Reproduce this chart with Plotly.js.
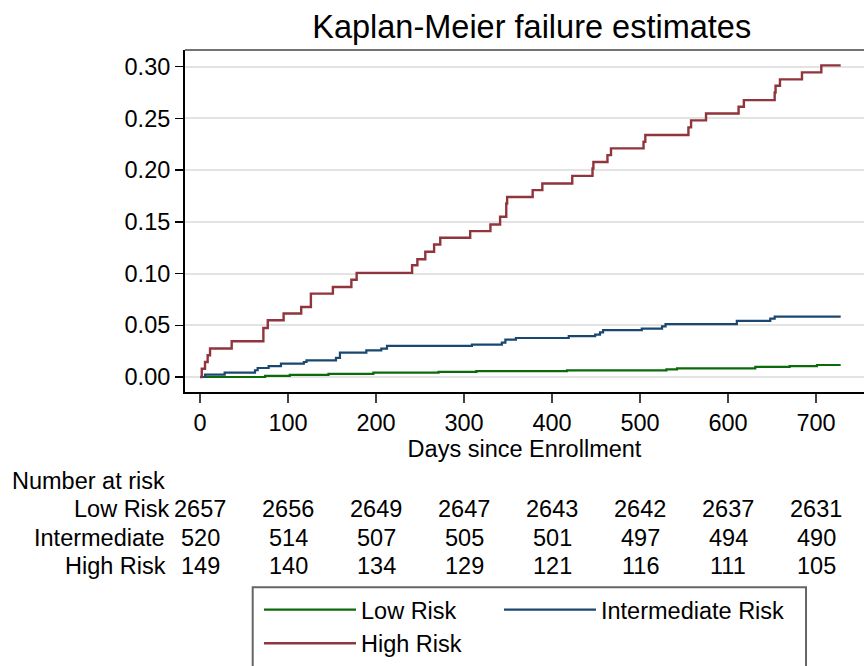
<!DOCTYPE html>
<html>
<head>
<meta charset="utf-8">
<script src="https://cdn.plot.ly/plotly-3.0.1.min.js"></script>
<style>html,body{margin:0;padding:0;background:#fff;}#chart{width:864px;height:666px;}</style>
</head>
<body>
<div id="chart"></div>
<script>
// Kaplan-Meier failure estimates (step points: day, cumulative failure)
const lowDays  = [0, 74, 102, 146, 197, 271, 314, 417, 530, 542, 631, 670, 701, 728];
const lowFail  = [0, 0.001, 0.002, 0.003, 0.0042, 0.0050, 0.0056, 0.0064, 0.0074, 0.0084, 0.0097, 0.0106, 0.0116, 0.0116];

const intDays  = [0, 5.7, 28, 62.5, 65.5, 78, 92, 118, 121, 154.5, 159, 189, 206, 212.5, 309, 343, 347, 359, 419, 449, 454.5, 458, 502, 525, 529, 610, 648, 653, 728];
const intFail  = [0, 0.0023, 0.0042, 0.0065, 0.0087, 0.0106, 0.013, 0.0145, 0.0161, 0.0184, 0.0236, 0.0258, 0.0274, 0.030, 0.0313, 0.0333, 0.0361, 0.0377, 0.0394, 0.041, 0.0432, 0.0452, 0.0468, 0.049, 0.051, 0.0542, 0.0565, 0.0584, 0.0584];

const highDays = [0, 2, 5.7, 8.7, 11.4, 36, 72, 77, 95, 115, 126, 151, 172, 178, 241, 247, 256, 266, 273, 307, 330, 341, 348, 349, 378, 389, 423, 446, 447, 463, 467, 504, 506, 555, 558, 575, 612, 618, 653, 654, 659, 684, 706, 728];
const highFail = [0, 0.008, 0.0145, 0.021, 0.0275, 0.0345, 0.0474, 0.0548, 0.0613, 0.0677, 0.0806, 0.087, 0.094, 0.1006, 0.108, 0.1138, 0.121, 0.128, 0.1345, 0.141, 0.1474, 0.1548, 0.1677, 0.174, 0.1806, 0.187, 0.1944, 0.2015, 0.2077, 0.2144, 0.2209, 0.2273, 0.2338, 0.2412, 0.248, 0.2547, 0.2611, 0.2676, 0.275, 0.2814, 0.2876, 0.2944, 0.3011, 0.3011];

// Number at risk table
const riskTimes = [0, 100, 200, 300, 400, 500, 600, 700];
const riskLow   = [2657, 2656, 2649, 2647, 2643, 2642, 2637, 2631];
const riskInt   = [520, 514, 507, 505, 501, 497, 494, 490];
const riskHigh  = [149, 140, 134, 129, 121, 116, 111, 105];

const yTicks = [0, 0.05, 0.10, 0.15, 0.20, 0.25, 0.30];
const yTickText = ['0.00', '0.05', '0.10', '0.15', '0.20', '0.25', '0.30'];

const FONT = 'Liberation Sans, Arial, Helvetica, sans-serif';
const FS = 23.5;

const traces = [
  {x: lowDays, y: lowFail, name: 'Low Risk', legend: 'legend', legendgroup: 'g1', type: 'scatter', mode: 'lines',
   line: {shape: 'hv', color: '#0b6b0b', width: 2.2}},
  {x: intDays, y: intFail, name: 'Intermediate Risk', legend: 'legend2', legendgroup: 'g2', type: 'scatter', mode: 'lines',
   line: {shape: 'hv', color: '#1a476f', width: 2.2}},
  {x: highDays, y: highFail, name: 'High Risk', legend: 'legend', legendgroup: 'g3', type: 'scatter', mode: 'lines',
   line: {shape: 'hv', color: '#90353b', width: 2.4}}
];

const rowY = [-0.3433, -0.4267, -0.5092];
const rowLabels = ['Low Risk', 'Intermediate', 'High Risk'];
const rowLabelX = [-0.0190, -0.0270, -0.0250];
const rowData = [riskLow, riskInt, riskHigh];

const annotations = [
  {xref: 'paper', yref: 'paper', x: -0.2578, y: -0.2613, xanchor: 'left', yanchor: 'middle',
   text: 'Number at risk', showarrow: false, font: {family: FONT, size: FS, color: '#000'}}
];
rowLabels.forEach((lab, i) => {
  annotations.push({xref: 'paper', yref: 'paper', x: rowLabelX[i], y: rowY[i], xanchor: 'right', yanchor: 'middle',
    text: lab, showarrow: false, font: {family: FONT, size: FS, color: '#000'}});
  riskTimes.forEach((t, j) => {
    annotations.push({xref: 'x', yref: 'paper', x: t, y: rowY[i], xanchor: 'center', yanchor: 'middle',
      text: String(rowData[i][j]), showarrow: false, font: {family: FONT, size: FS, color: '#000'}});
  });
});

const legendCommon = {
  orientation: 'v', traceorder: 'grouped', tracegroupgap: 0, yanchor: 'top', xanchor: 'left',
  bgcolor: 'rgba(0,0,0,0)', borderwidth: 0, itemwidth: 92,
  font: {family: FONT, size: FS, color: '#000'}
};

const layout = {
  width: 864, height: 666,
  margin: {l: 185, r: 0, t: 50, b: 274.3, pad: 0, autoexpand: false},
  paper_bgcolor: '#fff', plot_bgcolor: '#fff',
  font: {family: FONT, size: FS, color: '#000'},
  title: {text: 'Kaplan-Meier failure estimates', font: {family: FONT, size: 32.5, color: '#000'},
          xref: 'container', yref: 'container', x: 0.6154, xanchor: 'center', y: 0.9595, yanchor: 'middle'},
  xaxis: {
    range: [-17.05, 754.5], tickvals: riskTimes, ticktext: riskTimes.map(String),
    ticks: 'outside', ticklen: 9, tickwidth: 1.5, tickcolor: '#444',
    showline: true, linecolor: '#000', linewidth: 2, showgrid: false, zeroline: false,
    tickfont: {family: FONT, size: FS, color: '#000'},
    title: {text: 'Days since Enrollment', font: {family: FONT, size: FS, color: '#000'}, standoff: 0},
    automargin: false, fixedrange: true
  },
  yaxis: {
    range: [-0.0145, 0.316], tickvals: yTicks, ticktext: yTickText,
    ticks: 'outside', ticklen: 8, tickwidth: 1.5, tickcolor: '#000',
    showline: true, linecolor: '#000', linewidth: 2,
    showgrid: true, gridcolor: '#e3e3e3', gridwidth: 2, zeroline: false,
    tickfont: {family: FONT, size: FS, color: '#000'},
    automargin: false, fixedrange: true
  },
  shapes: [
    {type: 'line', xref: 'paper', yref: 'paper', x0: 0, x1: 1, y0: 1, y1: 1,
     line: {color: '#444', width: 1.5}},
    {type: 'rect', xref: 'paper', yref: 'paper', x0: 0.0997, x1: 0.9146, y0: -0.5707, y1: -0.90,
     line: {color: '#666', width: 2}, fillcolor: 'rgba(0,0,0,0)'}
  ],
  showlegend: true,
  legend: Object.assign({}, legendCommon, {x: 0.1090, y: -0.5727}),
  legend2: Object.assign({}, legendCommon, {x: 0.4624, y: -0.5727}),
  annotations: annotations
};

Plotly.newPlot('chart', traces, layout, {displayModeBar: false, staticPlot: true});
</script>
</body>
</html>
